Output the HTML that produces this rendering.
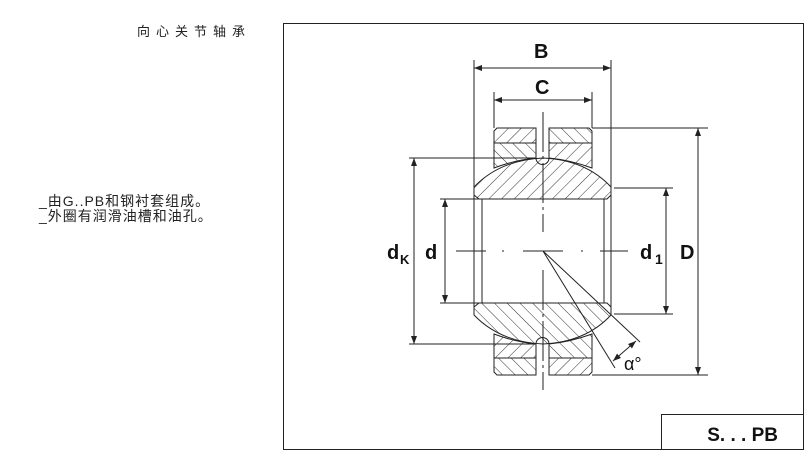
<!DOCTYPE html>
<html><head><meta charset="utf-8"><style>
body{margin:0;background:#fff;width:807px;height:453px;overflow:hidden;position:relative;font-family:"Liberation Sans","Noto Sans CJK SC",sans-serif}
.t{position:absolute;font-size:13px;color:#222;white-space:nowrap}
</style></head><body>
<div class="t" style="left:137px;top:21px;letter-spacing:6px;font-size:13px">向心关节轴承</div>
<div class="t" style="left:39px;top:194px;line-height:15px;font-size:14px;letter-spacing:1px">_由G..PB和钢衬套组成。<br>_外圈有润滑油槽和油孔。</div>
<svg width="807" height="453" style="position:absolute;left:0;top:0" font-family="Liberation Sans, sans-serif">
<defs>
<pattern id="h1" width="9" height="9" patternUnits="userSpaceOnUse" patternTransform="rotate(45)"><line x1="0" y1="0" x2="0" y2="9" stroke="#333" stroke-width="1"/></pattern>
<pattern id="h2" width="9" height="9" patternUnits="userSpaceOnUse" patternTransform="rotate(-45)"><line x1="0" y1="0" x2="0" y2="9" stroke="#333" stroke-width="1"/></pattern>
<marker id="a" markerWidth="8" markerHeight="6" refX="8" refY="3" orient="auto-start-reverse" markerUnits="userSpaceOnUse"><path d="M0,0L8,3L0,6z" fill="#222"/></marker>
</defs>
<rect x="283.5" y="23.5" width="520" height="426" fill="none" stroke="#222"/>
<rect x="661.5" y="414.5" width="142" height="35" fill="none" stroke="#222"/>
<text x="778" y="441" font-size="19" font-weight="bold" text-anchor="end" fill="#111">S. . . PB</text>
<g stroke="#222" stroke-width="1" fill="none">
<path d="M497,128H536V143H494V131Z" fill="url(#h1)"/>
<path d="M494,143H536V158Q515,160 494,168Z" fill="url(#h2)"/>
<path d="M549,128H589L592,131V143H549Z" fill="url(#h2)"/>
<path d="M549,143H592V168Q570,160 549,158Z" fill="url(#h1)"/>
<path d="M497,375H536V358H494V372Z" fill="url(#h2)"/>
<path d="M494,358H536V344Q515,342 494,334Z" fill="url(#h1)"/>
<path d="M549,375H589L592,372V358H549Z" fill="url(#h1)"/>
<path d="M549,358H592V334Q570,342 549,344Z" fill="url(#h2)"/>
<path d="M474,187Q500,160 543,158Q586,160 611,187V195L607,199H479L474,195Z" fill="url(#h1)"/>
<path d="M474,315Q500,342 543,344Q586,342 611,315V307L607,303H479L474,307Z" fill="url(#h2)"/>
<path d="M474,195V307M611,195V307M482,199V303M604,199V303"/>
<path d="M536,158A6,6 0 0 0 549,158M536,344A6,6 0 0 1 549,344" />
<path d="M543,112V232M543,270V390" stroke-dasharray="40,4,3,4"/>
<path d="M456,251H486M502,251H504M523,251H563M581,251H583M600,251H628" />
<path d="M474,60V187M611,60V187M494,92V128M592,92V128"/>
<line x1="474" y1="68" x2="611" y2="68" marker-start="url(#a)" marker-end="url(#a)"/>
<line x1="494" y1="100" x2="592" y2="100" marker-start="url(#a)" marker-end="url(#a)"/>
<path d="M409,158H536M409,344H536M440,199H479M440,303H479M614,188H673M614,314H673M592,128H708M592,375H708"/>
<line x1="414" y1="158" x2="414" y2="344" marker-start="url(#a)" marker-end="url(#a)"/>
<line x1="445" y1="199" x2="445" y2="303" marker-start="url(#a)" marker-end="url(#a)"/>
<line x1="666" y1="188" x2="666" y2="314" marker-start="url(#a)" marker-end="url(#a)"/>
<line x1="698" y1="128" x2="698" y2="375" marker-start="url(#a)" marker-end="url(#a)"/>
<path d="M543,251L640,342M543,251L615,368"/>
<line x1="636" y1="341" x2="613" y2="361" marker-start="url(#a)" marker-end="url(#a)"/>
</g>
<g font-weight="bold" fill="#111" font-size="20">
<text x="534" y="58">B</text><text x="535" y="94">C</text>
<text x="387" y="259">d</text><text x="400" y="264" font-size="13">K</text>
<text x="425" y="259">d</text>
<text x="640" y="259">d</text><text x="655" y="264" font-size="14">1</text>
<text x="680" y="259">D</text>
</g>
<text x="624" y="370" font-size="18" fill="#111">α°</text>
</svg>
</body></html>
